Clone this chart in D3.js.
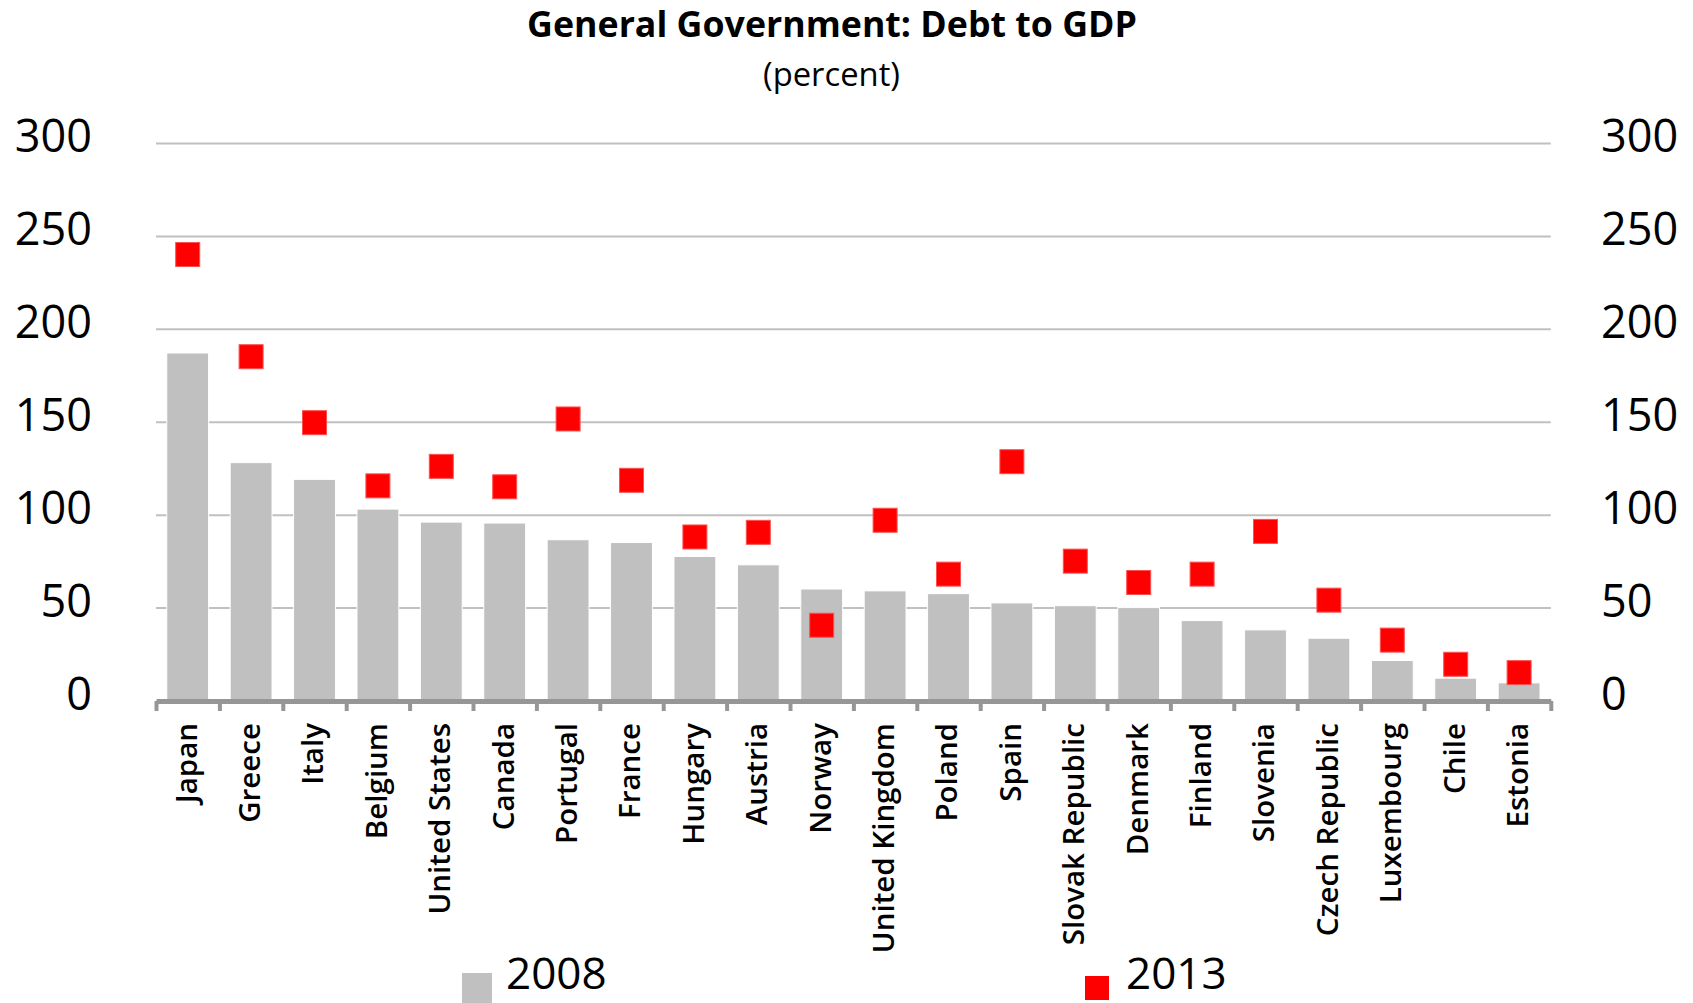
<!DOCTYPE html>
<html><head><meta charset="utf-8">
<script src="https://cdn.jsdelivr.net/npm/d3@7"></script>
<style>body{margin:0;background:#fff;} svg{display:block}</style>
</head><body>
<svg id="chart" width="1693" height="1003"></svg>
<script>
const categories = ["Japan","Greece","Italy","Belgium","United States","Canada","Portugal","France","Hungary","Austria","Norway","United Kingdom","Poland","Spain","Slovak Republic","Denmark","Finland","Slovenia","Czech Republic","Luxembourg","Chile","Estonia"];
const debt2008 = [187,128,119,103,96,95.5,86.5,85,77.5,73,60,59,57.5,52.5,51,50,43,38,33.5,21.5,12,9.5];
const debt2013 = [240,185,149.5,115.5,126,115,151.5,118.5,88,90.5,40.5,97,68,128.5,75,63.5,68,91,54,32.5,19.5,15];
const yTicks = [0,50,100,150,200,250,300];
const seriesNames = ["2008","2013"];
const titleText = "General Government: Debt to GDP";
const subtitleText = "(percent)";

const FONT = "'Open Sans', 'Noto Sans', sans-serif";
const svg = d3.select("#chart");
const left = 156, right = 1550.8;
const x = d3.scaleBand().domain(categories).range([left, right]).paddingInner(0.34).paddingOuter(0.17);
const y = d3.scaleLinear().domain([0, 300]).range([700.5, 143]);
const edges = d3.scaleLinear().domain([0, categories.length]).range([left, right]);

// Title & subtitle
function fitText(sel, target) {
  const w = sel.node().getComputedTextLength();
  const fs = parseFloat(sel.attr("font-size"));
  sel.attr("font-size", fs * target / w);
}
const title = svg.append("text").attr("x", 832).attr("y", 37).attr("text-anchor", "middle")
  .attr("font-family", FONT).attr("font-weight", 700).attr("font-size", 33).attr("fill", "#000")
  .text(titleText);
fitText(title, 610);
const sub = svg.append("text").attr("x", 831.5).attr("y", 86).attr("text-anchor", "middle")
  .attr("font-family", FONT).attr("font-weight", 400).attr("font-size", 29).attr("fill", "#000")
  .text(subtitleText);
fitText(sub, 137);

// Gridlines
const grid = svg.append("g").attr("transform", `translate(${left},0)`)
  .call(d3.axisLeft(y).tickValues(yTicks.filter(d => d > 0)).tickSize(-(right - left)).tickFormat(""));
grid.select(".domain").remove();
grid.selectAll("line").attr("stroke", "#c0c0c0").attr("stroke-width", 2);

// Bars 2008
svg.append("g").selectAll("rect").data(categories).join("rect")
  .attr("x", d => x(d)).attr("width", x.bandwidth())
  .attr("y", (d, i) => y(debt2008[i])).attr("height", (d, i) => y(0) - y(debt2008[i]))
  .attr("fill", "#c0c0c0").attr("stroke", "#ffffff").attr("stroke-width", 1);

// X axis with ticks at band edges
const xAxis = svg.append("g").attr("transform", `translate(0,${y(0) + 0.5})`)
  .call(d3.axisBottom(edges).tickValues(d3.range(categories.length + 1)).tickSize(10).tickSizeOuter(0).tickFormat(""));
xAxis.select(".domain").attr("stroke", "#969696").attr("stroke-width", 5);
xAxis.selectAll(".tick line").attr("stroke", "#969696").attr("stroke-width", 4);

// Markers 2013
const ms = 24;
svg.append("g").selectAll("rect").data(categories).join("rect")
  .attr("x", d => x(d) + x.bandwidth() / 2 - ms / 2).attr("width", ms)
  .attr("y", (d, i) => y(debt2013[i]) - ms / 2).attr("height", ms)
  .attr("fill", "#ff0000").attr("stroke", "#ff5050").attr("stroke-width", 1);

// Category labels
svg.append("g").selectAll("text").data(categories).join("text")
  .attr("transform", d => `translate(${x(d) + x.bandwidth() / 2},723) rotate(-90)`)
  .attr("text-anchor", "end").attr("dy", "0.3em")
  .attr("font-family", FONT).attr("font-weight", 600).attr("font-size", 29.5).attr("fill", "#000")
  .text(d => d);

// Y labels left and right
const yl = svg.append("g").attr("font-family", FONT).attr("font-size", 45).attr("fill", "#000");
yl.selectAll("text.l").data(yTicks).join("text").attr("class", "l")
  .attr("x", 92).attr("y", d => y(d) - 7).attr("dy", "0.36em").attr("text-anchor", "end").text(d => d);
yl.selectAll("text.r").data(yTicks).join("text").attr("class", "r")
  .attr("x", 1601).attr("y", d => y(d) - 7).attr("dy", "0.36em").attr("text-anchor", "start").text(d => d);

// Legend
const lg = svg.append("g");
lg.append("rect").attr("x", 462).attr("y", 973).attr("width", 30).attr("height", 30).attr("fill", "#c0c0c0");
lg.append("text").attr("x", 506).attr("y", 989).attr("font-family", FONT).attr("font-size", 44).attr("fill", "#000").text(seriesNames[0]);
lg.append("rect").attr("x", 1085).attr("y", 976).attr("width", 24).attr("height", 24).attr("fill", "#ff0000");
lg.append("text").attr("x", 1126).attr("y", 989).attr("font-family", FONT).attr("font-size", 44).attr("fill", "#000").text(seriesNames[1]);
</script>
</body></html>
